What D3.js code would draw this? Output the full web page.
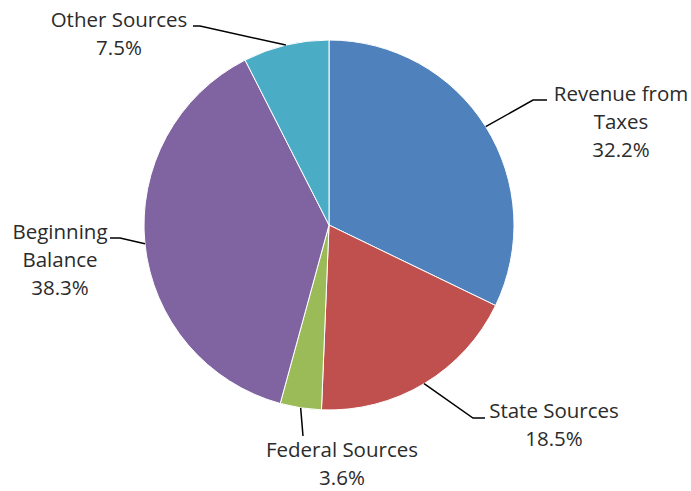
<!DOCTYPE html>
<html><head><meta charset="utf-8">
<script src="https://cdn.jsdelivr.net/npm/d3@7"></script>
<style>html,body{margin:0;padding:0;background:#fff;}svg{display:block;}</style>
</head><body>
<script>
const categories = ["Revenue from Taxes","State Sources","Federal Sources","Beginning Balance","Other Sources"];
const values = [32.2, 18.5, 3.6, 38.3, 7.5];
const labelLines = [["Revenue from","Taxes"],["State Sources"],["Federal Sources"],["Beginning","Balance"],["Other Sources"]];
const valueLabels = ["32.2%","18.5%","3.6%","38.3%","7.5%"];
const colors = ["#4F81BD","#C0504D","#9BBB59","#8064A2","#4BACC6"];

// layout for labels: text center x, first baseline y, leader elbow and end
const labelLayout = [
  {x:621, y:101, elbow:[533,100], end:[547,100]},
  {x:554, y:418, elbow:[473,418], end:[485,418]},
  {x:342, y:457, elbow:[303,436], end:[303,436]},
  {x:60,  y:239, elbow:[120,238], end:[110,238]},
  {x:119, y:27,  elbow:[200,26],  end:[193,26]}
];

const W=691,H=491, cx=329, cy=225, R=185;
const svg=d3.select("body").append("svg").attr("width",W).attr("height",H);
const pie=d3.pie().sort(null).value(d=>d)(values);
const arc=d3.arc().innerRadius(0).outerRadius(R);
const edge=d3.arc().innerRadius(R).outerRadius(R);
const g=svg.append("g").attr("transform",`translate(${cx},${cy})`);
g.selectAll("path").data(pie).join("path").attr("d",arc)
  .attr("fill",(d,i)=>colors[i]).attr("stroke","#fff").attr("stroke-width",1);

const lg=svg.append("g");
pie.forEach((d,i)=>{
  const c=edge.centroid(d);
  const L=labelLayout[i];
  lg.append("polyline").attr("points",[[c[0]+cx,c[1]+cy],L.elbow,L.end].map(p=>p.join(",")).join(" "))
    .attr("fill","none").attr("stroke","#000").attr("stroke-width",1.5);
  const lines=labelLines[i].concat([valueLabels[i]]);
  const t=lg.append("text").attr("text-anchor","middle")
    .attr("font-family","'Open Sans', sans-serif").attr("font-size",20.5).attr("fill","#2b2b2b");
  lines.forEach((s,k)=>t.append("tspan").attr("x",L.x).attr("y",L.y+k*28).text(s));
});
</script>
</body></html>
